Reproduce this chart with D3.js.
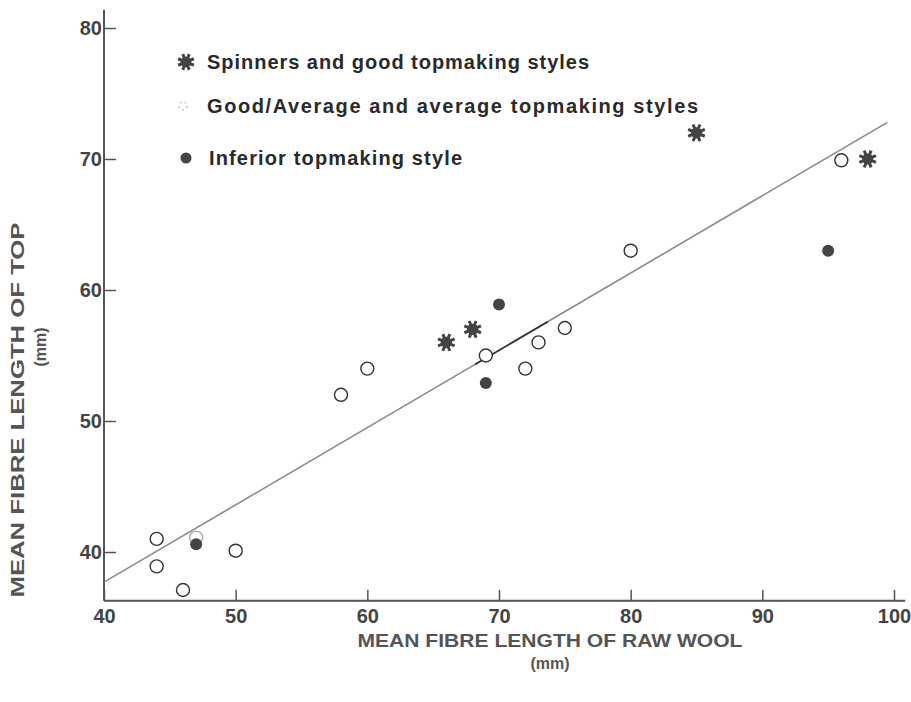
<!DOCTYPE html>
<html>
<head>
<meta charset="utf-8">
<script src="https://cdn.jsdelivr.net/npm/d3@7"></script>
<style>
  body { margin: 0; background: #fff; }
  svg { display: block; }
</style>
</head>
<body>
<script>
// raw wool length (mm) vs top length (mm), by topmaking style
const spinnersX = [66, 68, 85, 98];
const spinnersY = [56, 57, 72, 70];

const averageX = [44, 44, 46, 47, 50, 58, 60, 69, 72, 73, 75, 80, 96];
const averageY = [41, 38.9, 37.1, 41.1, 40.1, 52, 54, 55, 54, 56, 57.1, 63, 69.9];

const inferiorX = [47, 70, 69, 95];
const inferiorY = [40.6, 58.9, 52.9, 63];

// fitted line, two ends
const fitX = [40, 99.5];
const fitY = [37.7, 72.8];

const xTicks = [40, 50, 60, 70, 80, 90, 100];
const yTicks = [40, 50, 60, 70, 80];

const legendLabels = [
  'Spinners and good topmaking styles',
  'Good/Average and average topmaking styles',
  'Inferior topmaking style'
];

const width = 911;
const height = 702;

const x = d3.scaleLinear().domain([40, 100]).range([104, 894]);
const y = d3.scaleLinear().domain([40, 80]).range([552, 28]);

const svg = d3.select('body')
  .append('svg')
  .attr('width', width)
  .attr('height', height)
  .style('font-family', '"Liberation Sans", Arial, sans-serif')
  .style('font-weight', 'bold');

const axisColor = '#555';

// x axis
const xAxis = svg.append('g')
  .attr('transform', `translate(0,${y(36.27)})`)
  .call(d3.axisBottom(x).tickValues(xTicks).tickSize(-11).tickSizeOuter(0).tickPadding(7));
xAxis.select('.domain')
  .attr('d', `M${x(40)},0H${x(100.85)}`)
  .attr('stroke', axisColor)
  .attr('stroke-width', 2);
xAxis.selectAll('.tick line').attr('stroke', axisColor).attr('stroke-width', 1.5);
xAxis.selectAll('.tick text')
  .attr('fill', '#444')
  .style('font-size', '20px')
  .attr('dy', '0.75em');

// y axis
const yAxis = svg.append('g')
  .attr('transform', `translate(${x(40)},0)`)
  .call(d3.axisLeft(y).tickValues(yTicks).tickSize(-12).tickSizeOuter(0).tickPadding(2));
yAxis.select('.domain')
  .attr('d', `M0,${y(36.27)}V${y(81.4)}`)
  .attr('stroke', axisColor)
  .attr('stroke-width', 2);
yAxis.selectAll('.tick line').attr('stroke', axisColor).attr('stroke-width', 1.5);
yAxis.selectAll('.tick text')
  .attr('fill', '#444')
  .style('font-size', '20px');

// regression line
svg.append('line')
  .attr('x1', x(fitX[0])).attr('y1', y(fitY[0]))
  .attr('x2', x(fitX[1])).attr('y2', y(fitY[1]))
  .attr('stroke', '#8a8a8a')
  .attr('stroke-width', 1.6);

// the darker stretch of the printed line
const fitAt = v => fitY[0] + (v - fitX[0]) * (fitY[1] - fitY[0]) / (fitX[1] - fitX[0]);
svg.append('line')
  .attr('x1', x(68.2)).attr('y1', y(fitAt(68.2)))
  .attr('x2', x(73.7)).attr('y2', y(fitAt(73.7)))
  .attr('stroke', '#333')
  .attr('stroke-width', 1.6);

// markers
const starPath = r => {
  let p = '';
  for (let i = 0; i < 4; i++) {
    const a = i * Math.PI / 4 + Math.PI / 8;
    const dx = Math.cos(a) * r, dy = Math.sin(a) * r;
    p += `M${-dx},${-dy}L${dx},${dy}`;
  }
  return p;
};

const drawStar = (g, r) => {
  g.append('circle').attr('r', r * 0.62).attr('fill', '#444');
  g.append('path')
    .attr('d', starPath(r))
    .attr('stroke', '#444')
    .attr('stroke-width', 3)
    .attr('stroke-linecap', 'butt');
};

svg.append('g')
  .selectAll('circle')
  .data(d3.zip(averageX, averageY))
  .join('circle')
    .attr('cx', d => x(d[0]))
    .attr('cy', d => y(d[1]))
    .attr('r', 6.5)
    .attr('fill', '#fff')
    .attr('stroke', (d, i) => i === 3 ? '#aaa' : '#333')
    .attr('stroke-width', 1.4);

svg.append('g')
  .selectAll('circle')
  .data(d3.zip(inferiorX, inferiorY))
  .join('circle')
    .attr('cx', d => x(d[0]))
    .attr('cy', d => y(d[1]))
    .attr('r', 6)
    .attr('fill', '#444');

svg.append('g')
  .selectAll('g')
  .data(d3.zip(spinnersX, spinnersY))
  .join('g')
    .attr('transform', d => `translate(${x(d[0])},${y(d[1])})`)
    .each(function() { drawStar(d3.select(this), 9); });

// legend
const legendY = [62, 106, 158];
const legendW = [382, 491, 253];
const legend = svg.append('g');

drawStar(legend.append('g').attr('transform', `translate(186,${legendY[0]})`), 8.5);

legend.append('circle')
  .attr('cx', 183).attr('cy', legendY[1]).attr('r', 4)
  .attr('fill', 'none')
  .attr('stroke', '#999')
  .attr('stroke-width', 1)
  .attr('stroke-dasharray', '2,3');

legend.append('circle')
  .attr('cx', 186).attr('cy', legendY[2]).attr('r', 5.5)
  .attr('fill', '#444');

legend.selectAll('text')
  .data(legendLabels)
  .join('text')
    .attr('x', (d, i) => i === 2 ? 209 : 207)
    .attr('y', (d, i) => legendY[i] + 7)
    .attr('textLength', (d, i) => legendW[i])
    .attr('lengthAdjust', 'spacing')
    .attr('fill', '#2a2a2a')
    .style('font-size', '20px')
    .text(d => d);

// axis titles
svg.append('text')
  .attr('x', 550).attr('y', 647)
  .attr('text-anchor', 'middle')
  .attr('textLength', 385)
  .attr('lengthAdjust', 'spacingAndGlyphs')
  .attr('fill', '#555')
  .style('font-size', '18px')
  .text('MEAN FIBRE LENGTH OF RAW WOOL');
svg.append('text')
  .attr('x', 550).attr('y', 669)
  .attr('text-anchor', 'middle')
  .attr('fill', '#555')
  .style('font-size', '16px')
  .text('(mm)');

svg.append('text')
  .attr('transform', 'translate(24,410) rotate(-90)')
  .attr('text-anchor', 'middle')
  .attr('textLength', 375)
  .attr('lengthAdjust', 'spacingAndGlyphs')
  .attr('fill', '#555')
  .style('font-size', '18px')
  .text('MEAN FIBRE LENGTH OF TOP');
svg.append('text')
  .attr('transform', 'translate(46,347) rotate(-90)')
  .attr('text-anchor', 'middle')
  .attr('fill', '#555')
  .style('font-size', '16px')
  .text('(mm)');
</script>
</body>
</html>
